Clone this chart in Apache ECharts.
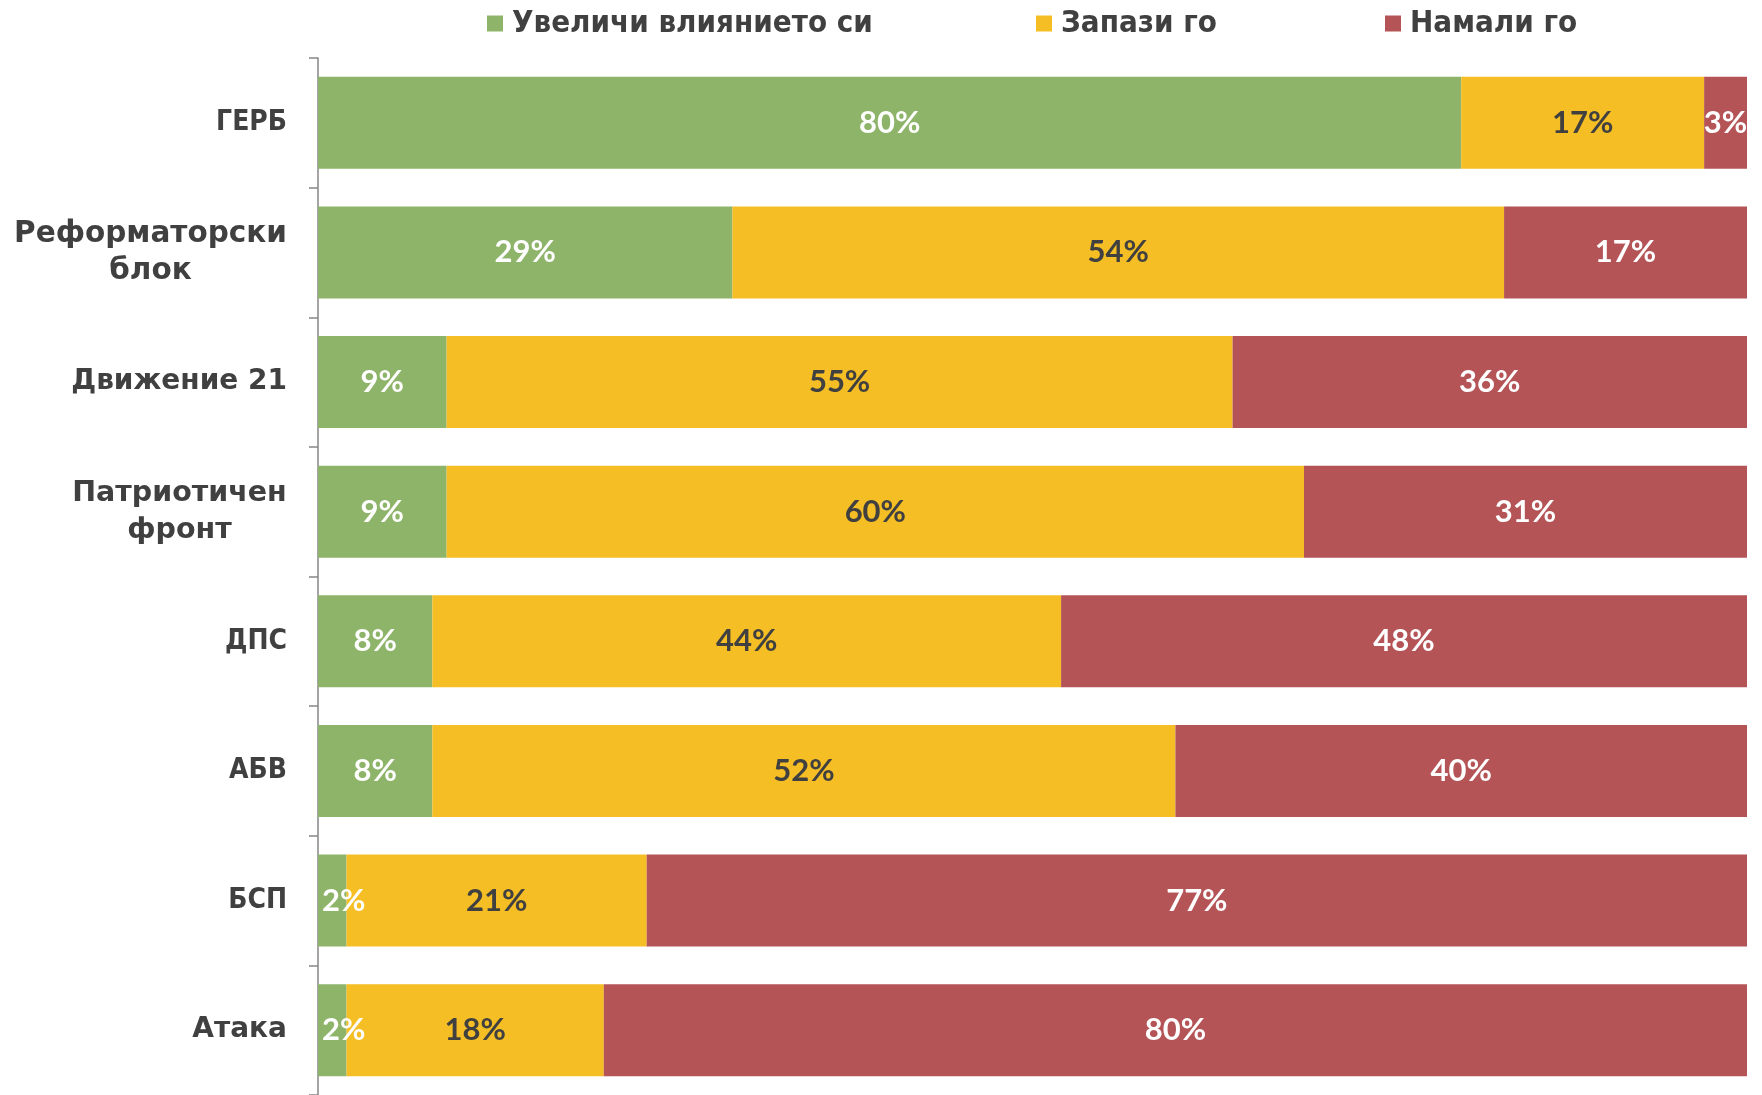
<!DOCTYPE html>
<html><head><meta charset="utf-8">
<script src="https://cdn.jsdelivr.net/npm/echarts@6/dist/echarts.min.js"></script>
<style>html,body{margin:0;padding:0;background:#fff}#c{width:1762px;height:1095px}</style>
</head><body><div id="c"></div>
<script>
// ---- data ----
const categories = ['ГЕРБ', 'Реформаторски\nблок', 'Движение 21', 'Патриотичен\nфронт', 'ДПС', 'АБВ', 'БСП', 'Атака'];
const seriesNames = ['Увеличи влиянието си', 'Запази го', 'Намали го'];
const increase = [80, 29, 9, 9, 8, 8, 2, 2];
const keep = [17, 54, 55, 60, 44, 52, 21, 18];
const decrease = [3, 17, 36, 31, 48, 40, 77, 80];

// ---- styling ----
const colors = ['#8EB46A', '#F5BE24', '#B45457'];
const labelColors = ['#FFFFFF', '#404040', '#FFFFFF'];
const textColor = '#404040';
const narrowFamily = '"DejaVu Sans Condensed", "Liberation Sans Narrow", sans-serif';
const wideFamily = '"DejaVu Sans", sans-serif';
const narrowLabels = ['ГЕРБ', 'ДПС', 'АБВ', 'БСП'];

const cv = document.createElement('canvas').getContext('2d');
function textW(t, font) { cv.font = font; return cv.measureText(t).width; }

const rich = {
  n: { fontFamily: narrowFamily, fontWeight: 'bold', fontSize: 28, color: textColor },
  w: { fontFamily: wideFamily, fontWeight: 'bold', fontSize: 28, color: textColor }
};
categories.forEach((c, i) => {
  const lines = c.split('\n');
  if (lines.length > 1) {
    const fs = lines[0].length > 12 ? 29.5 : 28.5;
    const W = Math.max(...lines.map(l => textW(l, 'bold ' + fs + 'px "DejaVu Sans"')));
    rich['m' + i] = { fontFamily: wideFamily, fontWeight: 'bold', fontSize: fs, color: textColor,
      width: Math.ceil(W), align: 'center', lineHeight: 37 };
  }
});

const chart = echarts.init(document.getElementById('c'), null, { renderer: 'canvas' });
const values = [increase, keep, decrease];

const series = values.map((arr, s) => ({
  name: seriesNames[s],
  type: 'bar',
  stack: 'total',
  barCategoryGap: '29%',
  itemStyle: { color: colors[s] },
  label: {
    show: true, position: 'inside', formatter: '{c}%',
    color: labelColors[s], fontFamily: 'Lato, sans-serif', fontWeight: 'bold', fontSize: 31
  },
  data: arr.map(v => (s === 0 && v < 4)
    ? { value: v, label: { position: 'insideLeft', distance: 4 } }
    : v)
}));

const legendLefts = [487, 1036, 1385];
const legends = seriesNames.map((n, i) => ({
  data: [n], left: legendLefts[i], top: 8, padding: 0, icon: 'rect', itemWidth: 16, itemHeight: 16, itemGap: 8,
  selectedMode: false,
  textStyle: { fontFamily: narrowFamily, fontWeight: 'bold', fontSize: 31, color: textColor, padding: [0, 0, 0, 4] }
}));

chart.setOption({
  animation: false,
  backgroundColor: '#fff',
  color: colors,
  legend: legends,
  grid: { left: 318, right: 15, top: 58, height: 1039, containLabel: false },
  xAxis: { type: 'value', min: 0, max: 100, show: false },
  yAxis: {
    type: 'category', inverse: true, data: categories,
    axisLine: { show: true, lineStyle: { color: '#868686', width: 1.5 } },
    axisTick: { show: true, length: 9, lineStyle: { color: '#868686', width: 1.5 } },
    axisLabel: {
      margin: 31,
      formatter: (v, i) => {
        const lines = v.split('\n');
        if (lines.length > 1) return lines.map(l => '{m' + i + '|' + l + '}').join('\n');
        if (narrowLabels.includes(v)) return '{n|' + v + '}';
        return '{w|' + v + '}';
      },
      rich: rich
    }
  },
  series: series
});
</script></body></html>
